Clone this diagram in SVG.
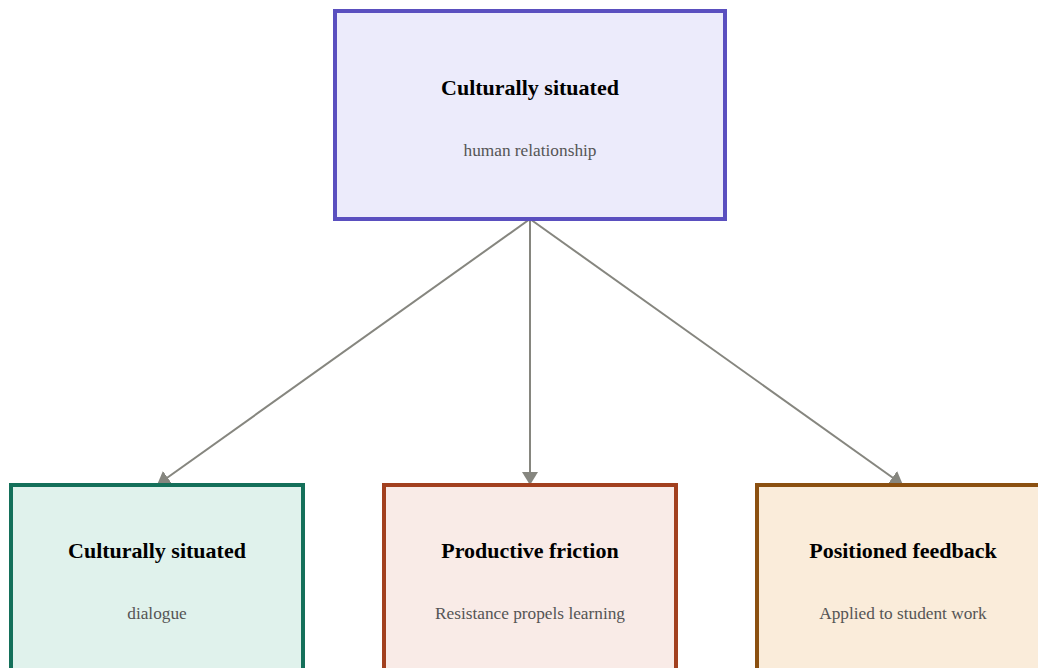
<svg xmlns="http://www.w3.org/2000/svg" width="1038" height="668" viewBox="0 0 1038 668">
<defs>
<marker id="arr" markerUnits="userSpaceOnUse" markerWidth="13" markerHeight="16" refX="13" refY="8" orient="auto" viewBox="0 0 13 16">
<path d="M0,0 L13,8 L0,16 Z" fill="#86867f"/>
</marker>
<style>
.box{stroke-width:4}
.t{font-weight:bold;font-size:22px;fill:#000;text-anchor:middle}
.s{font-size:17.3px;fill:#555;text-anchor:middle}
.e{stroke:#86867f;stroke-width:2;fill:none}
</style>
</defs>
<rect width="1038" height="668" fill="#fff"/>
<g id="edges">
<line class="e" x1="530" y1="219" x2="157" y2="485" marker-end="url(#arr)"/>
<line class="e" x1="530" y1="219" x2="530" y2="485" marker-end="url(#arr)"/>
<line class="e" x1="530" y1="219" x2="903" y2="485" marker-end="url(#arr)"/>
</g>
<g font-family="'Liberation Serif', Tinos, 'Times New Roman', 'DejaVu Serif', serif">
<g id="top">
<rect class="box" x="335" y="11" width="390" height="208" fill="#ecebfb" stroke="#5a4fbf"/>
<text class="t" x="530" y="95">Culturally situated</text>
<text class="s" x="530" y="156">human relationship</text>
</g>
<g id="left">
<rect class="box" x="11" y="485" width="292" height="200" fill="#e0f2ec" stroke="#14705a"/>
<text class="t" x="157" y="558">Culturally situated</text>
<text class="s" x="157" y="619">dialogue</text>
</g>
<g id="middle">
<rect class="box" x="384" y="485" width="292" height="200" fill="#f9ebe7" stroke="#a2401f"/>
<text class="t" x="530" y="558">Productive friction</text>
<text class="s" x="530" y="619">Resistance propels learning</text>
</g>
<g id="right">
<rect class="box" x="757" y="485" width="292" height="200" fill="#faecda" stroke="#8b5010"/>
<text class="t" x="903" y="558">Positioned feedback</text>
<text class="s" x="903" y="619">Applied to student work</text>
</g>
</g>
</svg>
